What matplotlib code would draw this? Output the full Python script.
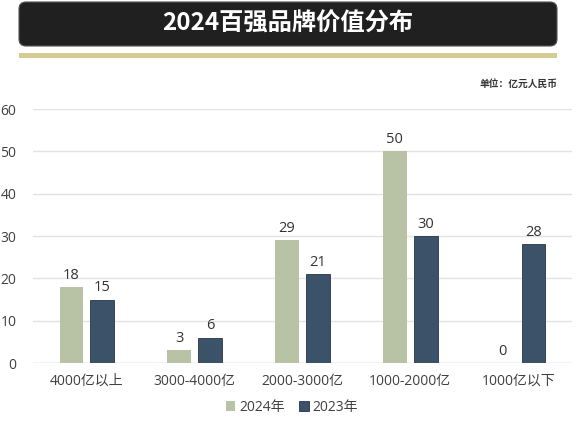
import matplotlib
matplotlib.use("Agg")
import matplotlib.pyplot as plt
from matplotlib.patches import FancyBboxPatch, Rectangle
import numpy as np

categories = ["4000亿以上", "3000-4000亿", "2000-3000亿", "1000-2000亿", "1000亿以下"]
values_2024 = [18, 3, 29, 50, 0]
values_2023 = [15, 6, 21, 30, 28]
series_names = ["2024年", "2023年"]
yticks = [0, 10, 20, 30, 40, 50, 60]
title = "2024百强品牌价值分布"
unit_text = "单位：亿元人民币"

plt.rcParams['font.family'] = ['Open Sans', 'Noto Sans CJK SC', 'DejaVu Sans']

W, H = 580, 423
fig = plt.figure(figsize=(W / 100, H / 100), dpi=100)
fig.patch.set_facecolor("white")

# Title box
box = FancyBboxPatch((19 / W, (H - 46) / H), (557 - 19) / W, 44 / H,
                     boxstyle="round,pad=0,rounding_size=0.012",
                     transform=fig.transFigure, facecolor="#202020",
                     edgecolor="#555555", linewidth=0.8, mutation_aspect=W / H)
fig.patches.append(box)
fig.text(288 / W, (H - 24) / H, title, color="white", fontsize=17.5,
         fontweight="bold", ha="center", va="center",
         family=['Noto Sans CJK SC', 'DejaVu Sans'])

# Gold line
fig.patches.append(Rectangle((19 / W, (H - 58) / H), (557 - 19) / W, 5 / H,
                             transform=fig.transFigure, facecolor="#d6cb92",
                             edgecolor="none"))

fig.text(557 / W, (H - 84) / H, unit_text, color="#333333", fontsize=7,
         fontweight="bold", ha="right", va="center",
         family=['Noto Sans CJK SC', 'DejaVu Sans'])

ax = fig.add_axes([33 / W, 60 / H, 539 / W, 254 / H])
x = np.arange(len(categories))
bw = 0.222
off = 0.143
c24 = "#b8c3a6"
c23 = "#3b5269"
b1 = ax.bar(x - off, values_2024, bw, color=c24, label=series_names[0], zorder=3)
b2 = ax.bar(x + off, values_2023, bw, color=c23, edgecolor="#263648",
            linewidth=0.6, label=series_names[1], zorder=3)

for bars, vals in ((b1, values_2024), (b2, values_2023)):
    for rect, v in zip(bars, vals):
        ax.annotate(str(v), (rect.get_x() + rect.get_width() / 2, v),
                    xytext=(0, 3), textcoords="offset points",
                    ha="center", va="bottom", fontsize=10.5, color="#333333")

ax.set_xlim(-0.5, len(categories) - 0.5)
ax.set_ylim(0, 60)
ax.set_yticks(yticks)
ax.set_xticks(x)
ax.set_xticklabels(categories)
ax.tick_params(axis="both", length=0, labelsize=10, colors="#404040")
ax.tick_params(axis="y", pad=12)
ax.tick_params(axis="x", pad=8)
ax.grid(axis="y", color="#e3e3e3", linewidth=1, zorder=0)
for s in ax.spines.values():
    s.set_visible(False)
ax.axhline(0, color="#dddddd", linewidth=1, zorder=2)

leg = fig.legend(handles=[b1, b2], labels=series_names, loc="center",
                 bbox_to_anchor=(292 / W, (H - 407) / H), ncol=2, frameon=False,
                 fontsize=10, handlelength=0.7, handleheight=0.7,
                 handletextpad=0.3, columnspacing=1.0, labelcolor="#404040")

fig.savefig("out.png", dpi=100, facecolor="white")
